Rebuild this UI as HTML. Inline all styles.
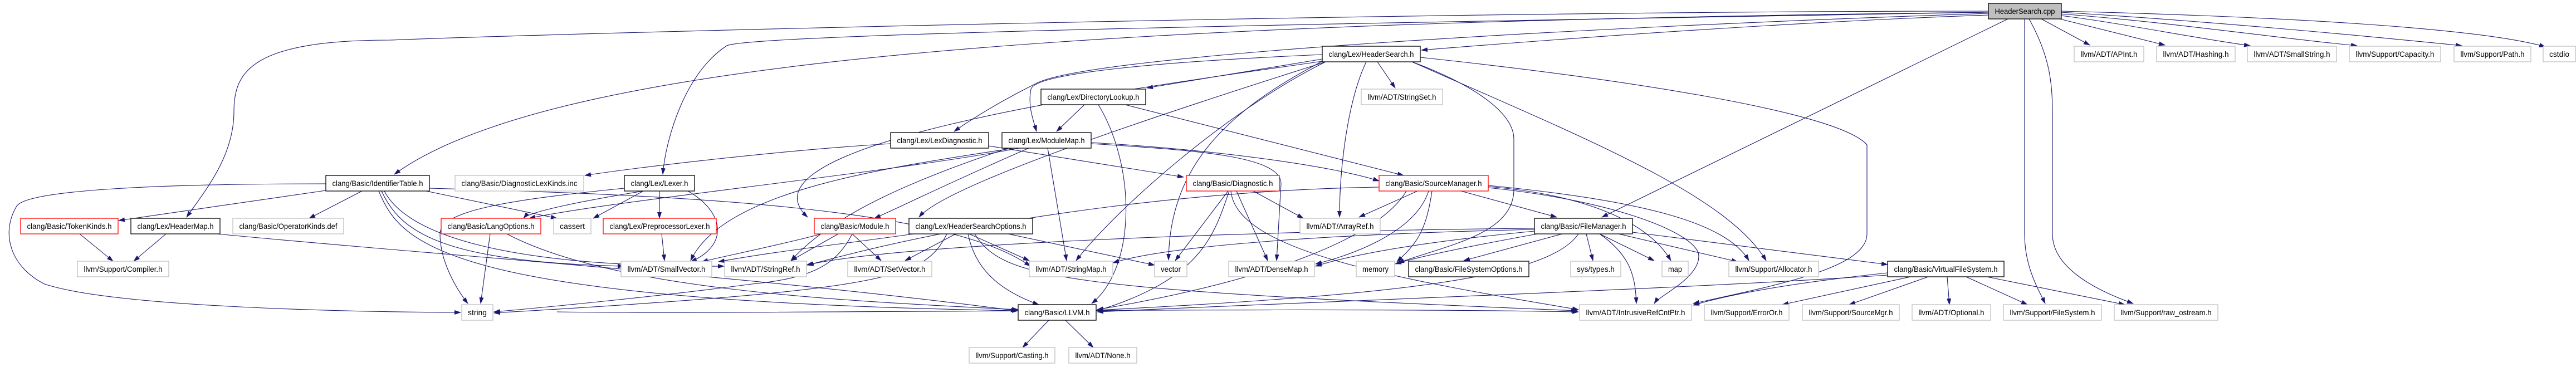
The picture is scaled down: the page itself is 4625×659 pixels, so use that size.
<!DOCTYPE html>
<html><head><meta charset="utf-8"><style>
html,body{margin:0;padding:0;background:#fff;}
svg{display:block;}
text{font-family:"Liberation Sans",Arial,sans-serif;font-size:14px;fill:#000;}
.e{fill:none;stroke:#191970;stroke-width:1.1;marker-end:url(#a);}
.g{fill:#fff;stroke:#bfbfbf;stroke-width:1.3;}
.k{fill:#fff;stroke:#000;stroke-width:1.3;}
.r{fill:#fff;stroke:#ff0000;stroke-width:1.3;}
</style></head><body>
<svg width="4625" height="659" viewBox="0 0 4625 659" xmlns="http://www.w3.org/2000/svg">
<defs><marker id="a" markerWidth="12" markerHeight="8" refX="11" refY="4" orient="auto" markerUnits="userSpaceOnUse"><path d="M0,0 L12,4 L0,8 z" fill="#191970"/></marker></defs>
<g>
<!-- from cpp -->
<path class="e" d="M3570,27 C3200,40 2800,70 2552,90"/>
<path class="e" d="M3570,22 C2000,40 1000,100 708,313"/>
<path class="e" d="M3570,20 C2500,20 1000,60 700,72 C450,72 420,130 420,200 C420,280 370,340 335,390"/>
<path class="e" d="M3570,22 C2500,40 1350,60 1305,82 C1230,130 1195,250 1190,313"/>
<path class="e" d="M3605,34 L2876,390"/>
<path class="e" d="M3635,34 L3635,420 C3635,480 3660,520 3672,545"/>
<path class="e" d="M3643,34 C3680,100 3685,150 3685,200 L3685,420 C3685,480 3760,520 3830,545"/>
<path class="e" d="M3665,34 L3752,81"/>
<path class="e" d="M3690,32 L3887,81"/>
<path class="e" d="M3700,28 C3800,40 3950,70 4040,82"/>
<path class="e" d="M3700,25 C3900,40 4100,70 4232,82"/>
<path class="e" d="M3700,22 C4000,40 4300,70 4420,82"/>
<path class="e" d="M3700,20 C4100,30 4450,50 4570,84"/>
<path class="e" d="M3570,24 C2800,50 1950,100 1860,150 C1800,180 1750,210 1713,236"/>
<!-- HeaderSearch.h -->
<path class="e" d="M2374,98 C2100,110 1860,130 1851,160 C1845,190 1855,215 1861,236"/>
<path class="e" d="M2374,106 L2059,158"/>
<path class="e" d="M2380,111 C2100,200 1700,330 1650,390"/>
<path class="e" d="M2473,111 L2505,158"/>
<path class="e" d="M2453,111 C2420,180 2405,300 2405,390"/>
<path class="e" d="M2535,111 C2640,150 2718,200 2718,250 L2718,340 C2718,420 2600,440 2510,472"/>
<path class="e" d="M2380,111 C2200,200 2000,380 1932,468"/>
<path class="e" d="M2378,108 C2200,200 2100,300 2098,467"/>
<path class="e" d="M2535,111 C2850,250 3100,350 3171,468"/>
<path class="e" d="M2550,103 C2900,140 3300,200 3352,260 L3352,420 C3352,480 3200,510 3040,545"/>
<path class="e" d="M2374,110 C2100,150 1300,250 1450,390"/>
<!-- DirectoryLookup -->
<path class="e" d="M1947,188 L1897,236"/>
<path class="e" d="M1972,188 C2040,300 2040,480 1960,545"/>
<path class="e" d="M2020,188 L2520,315"/>
<!-- LexDiagnostic / ModuleMap -->
<path class="e" d="M1775,262 L2125,318"/>
<path class="e" d="M1599,258 C1400,270 1150,300 1050,315"/>
<path class="e" d="M1847,266 C1700,330 1620,370 1570,392"/>
<path class="e" d="M1881,266 L1915,468"/>
<path class="e" d="M1959,258 C2150,270 2300,280 2300,330 L2292,468"/>
<path class="e" d="M1959,256 C2200,270 2400,300 2476,325"/>
<path class="e" d="M1820,266 C1600,300 1300,340 1240,468"/>
<path class="e" d="M1830,266 C1600,310 1100,360 950,392"/>
<path class="e" d="M1810,266 C1650,320 1500,380 1420,468"/>
<!-- IdentifierTable -->
<path class="e" d="M585,342 L213,396"/>
<path class="e" d="M650,343 L555,392"/>
<path class="e" d="M585,330 C300,330 50,340 30,370 C0,420 20,480 80,510 C200,550 600,560 827,561"/>
<path class="e" d="M765,343 L1000,392"/>
<path class="e" d="M685,343 C720,420 800,470 1120,478"/>
<path class="e" d="M690,343 C730,420 900,480 1300,478"/>
<path class="e" d="M771,338 C1200,350 1700,370 1850,478"/>
<path class="e" d="M680,343 C720,440 800,540 1828,558"/>
<!-- Lexer -->
<path class="e" d="M1155,343 C1050,360 950,380 940,392"/>
<path class="e" d="M1155,343 L1065,392"/>
<path class="e" d="M1184,343 L1184,392"/>
<path class="e" d="M1235,343 C1300,380 1310,440 1240,470"/>
<path class="e" d="M1121,338 C900,360 790,380 790,420 C790,470 820,520 840,545"/>
<!-- row6 nodes -->
<path class="e" d="M143,420 L203,469"/>
<path class="e" d="M298,420 L240,469"/>
<path class="e" d="M390,420 C800,460 1300,490 1826,558"/>
<path class="e" d="M880,420 L863,545"/>
<path class="e" d="M910,420 C1100,520 1500,540 1828,556"/>
<path class="e" d="M1188,420 L1193,468"/>
<path class="e" d="M1475,420 C1400,440 1300,460 1260,470"/>
<path class="e" d="M1505,420 L1420,468"/>
<path class="e" d="M1530,420 L1582,468"/>
<path class="e" d="M1530,420 C1500,480 1450,500 1350,510 C1200,530 1000,550 887,560"/>
<path class="e" d="M1640,420 C1500,440 1400,450 1290,470"/>
<path class="e" d="M1716,420 L1625,468"/>
<path class="e" d="M1740,420 L1848,468"/>
<path class="e" d="M1738,420 C1750,480 1790,520 1865,547"/>
<path class="e" d="M1750,420 C1800,500 1900,520 2832,558"/>
<path class="e" d="M1700,420 C1660,500 1600,520 887,562"/>
<path class="e" d="M1810,420 L2073,476"/>
<!-- Diagnostic -->
<path class="e" d="M2205,343 L2110,468"/>
<path class="e" d="M2220,343 L2276,468"/>
<path class="e" d="M2207,343 C2180,420 2160,500 1970,558"/>
<path class="e" d="M2250,343 L2340,392"/>
<path class="e" d="M2210,343 C2220,450 2500,500 2834,556"/>
<!-- SourceManager -->
<path class="e" d="M2623,343 L2795,390"/>
<path class="e" d="M2545,343 L2440,390"/>
<path class="e" d="M2571,343 C2560,420 2540,440 2508,470"/>
<path class="e" d="M2672,337 C2900,360 3050,420 3050,460 C3050,500 2980,530 2970,545"/>
<path class="e" d="M2672,335 C2850,350 2960,400 3000,468"/>
<path class="e" d="M2672,333 C2950,360 3100,400 3140,468"/>
<path class="e" d="M2565,343 C2540,420 2420,460 2362,474"/>
<path class="e" d="M2525,343 C2480,420 2300,500 1970,556"/>
<path class="e" d="M2476,336 C2200,340 1800,380 1450,476"/>
<!--- FileManager -->
<path class="e" d="M2805,420 L2628,468"/>
<path class="e" d="M2848,420 L2860,468"/>
<path class="e" d="M2872,420 L2970,468"/>
<path class="e" d="M2906,420 L3120,470"/>
<path class="e" d="M2931,417 L3389,475"/>
<path class="e" d="M2872,420 C2930,460 2936,500 2938,545"/>
<path class="e" d="M2755,415 C2600,430 2450,450 2362,478"/>
<path class="e" d="M2755,412 C2400,420 2100,440 1998,472"/>
<path class="e" d="M2755,410 C2200,415 1600,440 1448,476"/>
<path class="e" d="M2760,420 C2650,440 2550,460 2505,474"/>
<path class="e" d="M2834,420 C2780,500 2500,530 1970,557"/>
<!-- VFS -->
<path class="e" d="M3430,497 L3200,547"/>
<path class="e" d="M3462,497 L3320,547"/>
<path class="e" d="M3496,497 L3500,547"/>
<path class="e" d="M3530,497 L3640,547"/>
<path class="e" d="M3567,497 L3815,547"/>
<path class="e" d="M3389,490 C3200,510 3100,530 3040,548"/>
<path class="e" d="M3389,494 C3000,520 2400,540 1970,560"/>
<!-- LLVM.h -->
<path class="e" d="M1883,575 L1836,624"/>
<path class="e" d="M1913,575 L1963,624"/>
<path class="e" d="M1000,560 C1300,565 2300,550 2834,560"/>
</g>
<g>
<rect class="k" x="3570" y="6" width="131" height="28" style="fill:#bfbfbf"/><text x="3581.5" y="25" textLength="108" lengthAdjust="spacingAndGlyphs">HeaderSearch.cpp</text>
<rect class="k" x="2374" y="83" width="176" height="28"/><text x="2385.5" y="102" textLength="153" lengthAdjust="spacingAndGlyphs">clang/Lex/HeaderSearch.h</text>
<rect class="g" x="3724" y="83" width="125" height="28"/><text x="3735.5" y="102" textLength="102" lengthAdjust="spacingAndGlyphs">llvm/ADT/APInt.h</text>
<rect class="g" x="3872" y="83" width="141" height="28"/><text x="3883.5" y="102" textLength="118" lengthAdjust="spacingAndGlyphs">llvm/ADT/Hashing.h</text>
<rect class="g" x="4035" y="83" width="160" height="28"/><text x="4046.5" y="102" textLength="137" lengthAdjust="spacingAndGlyphs">llvm/ADT/SmallString.h</text>
<rect class="g" x="4218" y="83" width="164" height="28"/><text x="4229.5" y="102" textLength="141" lengthAdjust="spacingAndGlyphs">llvm/Support/Capacity.h</text>
<rect class="g" x="4406" y="83" width="138" height="28"/><text x="4417.5" y="102" textLength="115" lengthAdjust="spacingAndGlyphs">llvm/Support/Path.h</text>
<rect class="g" x="4566" y="83" width="58" height="28"/><text x="4577" y="102" textLength="36" lengthAdjust="spacingAndGlyphs">cstdio</text>
<rect class="k" x="1869" y="160" width="188" height="28"/><text x="1880.5" y="179" textLength="165" lengthAdjust="spacingAndGlyphs">clang/Lex/DirectoryLookup.h</text>
<rect class="g" x="2444" y="160" width="146" height="28"/><text x="2455.5" y="179" textLength="123" lengthAdjust="spacingAndGlyphs">llvm/ADT/StringSet.h</text>
<rect class="k" x="1599" y="238" width="176" height="28"/><text x="1610.5" y="257" textLength="153" lengthAdjust="spacingAndGlyphs">clang/Lex/LexDiagnostic.h</text>
<rect class="k" x="1799" y="238" width="160" height="28"/><text x="1810.5" y="257" textLength="137" lengthAdjust="spacingAndGlyphs">clang/Lex/ModuleMap.h</text>
<rect class="k" x="585" y="315" width="186" height="28"/><text x="596.5" y="334" textLength="163" lengthAdjust="spacingAndGlyphs">clang/Basic/IdentifierTable.h</text>
<rect class="g" x="817" y="315" width="231" height="28"/><text x="828.5" y="334" textLength="208" lengthAdjust="spacingAndGlyphs">clang/Basic/DiagnosticLexKinds.inc</text>
<rect class="k" x="1121" y="315" width="126" height="28"/><text x="1132.5" y="334" textLength="103" lengthAdjust="spacingAndGlyphs">clang/Lex/Lexer.h</text>
<rect class="r" x="2130" y="315" width="167" height="28"/><text x="2141.5" y="334" textLength="144" lengthAdjust="spacingAndGlyphs">clang/Basic/Diagnostic.h</text>
<rect class="r" x="2476" y="315" width="196" height="28"/><text x="2487.5" y="334" textLength="173" lengthAdjust="spacingAndGlyphs">clang/Basic/SourceManager.h</text>
<rect class="r" x="37" y="392" width="175" height="28"/><text x="48.5" y="411" textLength="152" lengthAdjust="spacingAndGlyphs">clang/Basic/TokenKinds.h</text>
<rect class="k" x="235" y="392" width="160" height="28"/><text x="246.5" y="411" textLength="137" lengthAdjust="spacingAndGlyphs">clang/Lex/HeaderMap.h</text>
<rect class="g" x="418" y="392" width="199" height="28"/><text x="429.5" y="411" textLength="176" lengthAdjust="spacingAndGlyphs">clang/Basic/OperatorKinds.def</text>
<rect class="r" x="792" y="392" width="179" height="28"/><text x="803.5" y="411" textLength="156" lengthAdjust="spacingAndGlyphs">clang/Basic/LangOptions.h</text>
<rect class="g" x="994" y="392" width="67" height="28"/><text x="1005" y="411" textLength="45" lengthAdjust="spacingAndGlyphs">cassert</text>
<rect class="r" x="1083" y="392" width="203" height="28"/><text x="1094.5" y="411" textLength="180" lengthAdjust="spacingAndGlyphs">clang/Lex/PreprocessorLexer.h</text>
<rect class="r" x="1462" y="392" width="146" height="28"/><text x="1473.5" y="411" textLength="123" lengthAdjust="spacingAndGlyphs">clang/Basic/Module.h</text>
<rect class="k" x="1632" y="392" width="222" height="28"/><text x="1643.5" y="411" textLength="199" lengthAdjust="spacingAndGlyphs">clang/Lex/HeaderSearchOptions.h</text>
<rect class="g" x="2334" y="392" width="144" height="28"/><text x="2345.5" y="411" textLength="121" lengthAdjust="spacingAndGlyphs">llvm/ADT/ArrayRef.h</text>
<rect class="k" x="2755" y="392" width="176" height="28"/><text x="2766.5" y="411" textLength="153" lengthAdjust="spacingAndGlyphs">clang/Basic/FileManager.h</text>
<rect class="g" x="139" y="469" width="164" height="28"/><text x="150.5" y="488" textLength="141" lengthAdjust="spacingAndGlyphs">llvm/Support/Compiler.h</text>
<rect class="g" x="1115" y="469" width="163" height="28"/><text x="1126.5" y="488" textLength="140" lengthAdjust="spacingAndGlyphs">llvm/ADT/SmallVector.h</text>
<rect class="g" x="1301" y="469" width="147" height="28"/><text x="1312.5" y="488" textLength="124" lengthAdjust="spacingAndGlyphs">llvm/ADT/StringRef.h</text>
<rect class="g" x="1522" y="469" width="151" height="28"/><text x="1533.5" y="488" textLength="128" lengthAdjust="spacingAndGlyphs">llvm/ADT/SetVector.h</text>
<rect class="g" x="1848" y="469" width="150" height="28"/><text x="1859.5" y="488" textLength="127" lengthAdjust="spacingAndGlyphs">llvm/ADT/StringMap.h</text>
<rect class="g" x="2073" y="469" width="58" height="28"/><text x="2084" y="488" textLength="36" lengthAdjust="spacingAndGlyphs">vector</text>
<rect class="g" x="2206" y="469" width="154" height="28"/><text x="2217.5" y="488" textLength="131" lengthAdjust="spacingAndGlyphs">llvm/ADT/DenseMap.h</text>
<rect class="g" x="2435" y="469" width="69" height="28"/><text x="2446" y="488" textLength="47" lengthAdjust="spacingAndGlyphs">memory</text>
<rect class="k" x="2529" y="469" width="216" height="28"/><text x="2540.5" y="488" textLength="193" lengthAdjust="spacingAndGlyphs">clang/Basic/FileSystemOptions.h</text>
<rect class="g" x="2820" y="469" width="90" height="28"/><text x="2831" y="488" textLength="68" lengthAdjust="spacingAndGlyphs">sys/types.h</text>
<rect class="g" x="2984" y="469" width="47" height="28"/><text x="2995" y="488" textLength="25" lengthAdjust="spacingAndGlyphs">map</text>
<rect class="g" x="3104" y="469" width="161" height="28"/><text x="3115.5" y="488" textLength="138" lengthAdjust="spacingAndGlyphs">llvm/Support/Allocator.h</text>
<rect class="k" x="3389" y="469" width="209" height="28"/><text x="3400.5" y="488" textLength="186" lengthAdjust="spacingAndGlyphs">clang/Basic/VirtualFileSystem.h</text>
<rect class="g" x="829" y="547" width="56" height="28"/><text x="840" y="566" textLength="34" lengthAdjust="spacingAndGlyphs">string</text>
<rect class="k" x="1828" y="547" width="140" height="28"/><text x="1839.5" y="566" textLength="117" lengthAdjust="spacingAndGlyphs">clang/Basic/LLVM.h</text>
<rect class="g" x="2836" y="547" width="201" height="28"/><text x="2847.5" y="566" textLength="178" lengthAdjust="spacingAndGlyphs">llvm/ADT/IntrusiveRefCntPtr.h</text>
<rect class="g" x="3060" y="547" width="152" height="28"/><text x="3071.5" y="566" textLength="129" lengthAdjust="spacingAndGlyphs">llvm/Support/ErrorOr.h</text>
<rect class="g" x="3236" y="547" width="174" height="28"/><text x="3247.5" y="566" textLength="151" lengthAdjust="spacingAndGlyphs">llvm/Support/SourceMgr.h</text>
<rect class="g" x="3433" y="547" width="141" height="28"/><text x="3444.5" y="566" textLength="118" lengthAdjust="spacingAndGlyphs">llvm/ADT/Optional.h</text>
<rect class="g" x="3597" y="547" width="176" height="28"/><text x="3608.5" y="566" textLength="153" lengthAdjust="spacingAndGlyphs">llvm/Support/FileSystem.h</text>
<rect class="g" x="3796" y="547" width="186" height="28"/><text x="3807.5" y="566" textLength="163" lengthAdjust="spacingAndGlyphs">llvm/Support/raw_ostream.h</text>
<rect class="g" x="1740" y="624" width="154" height="28"/><text x="1751.5" y="643" textLength="131" lengthAdjust="spacingAndGlyphs">llvm/Support/Casting.h</text>
<rect class="g" x="1919" y="624" width="122" height="28"/><text x="1930.5" y="643" textLength="99" lengthAdjust="spacingAndGlyphs">llvm/ADT/None.h</text>
</g>
</svg>
</body></html>
